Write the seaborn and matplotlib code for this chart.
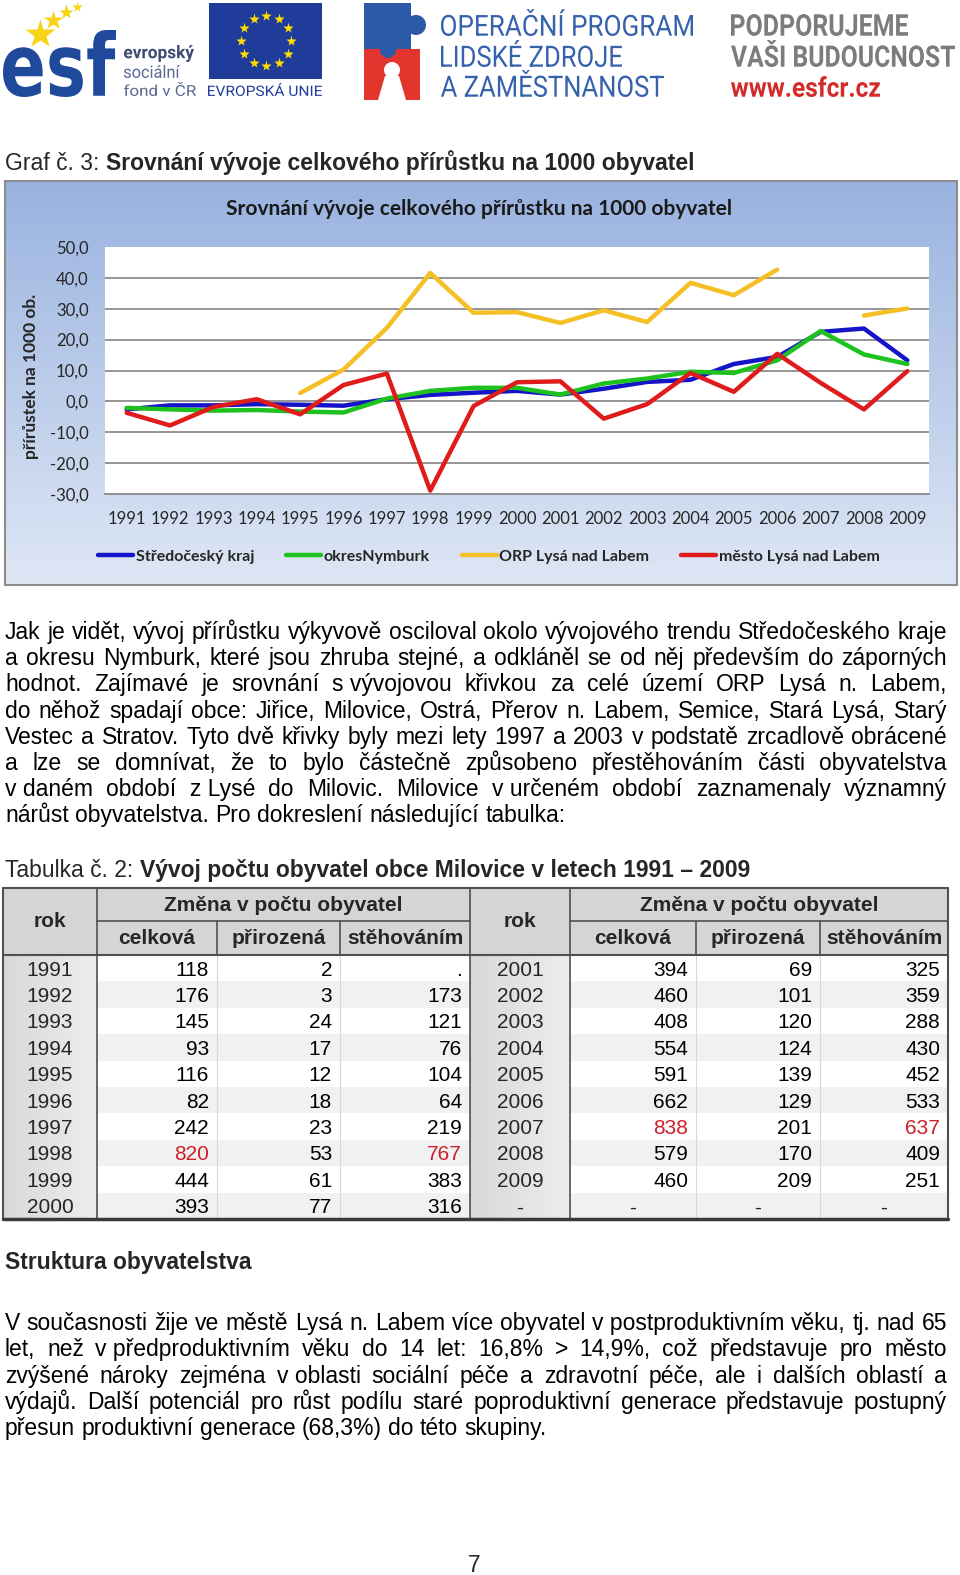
import numpy as np
import pandas as pd
import matplotlib
matplotlib.use("Agg")
import matplotlib.pyplot as plt
import seaborn as sns
from matplotlib.patches import Rectangle, Circle, Polygon, PathPatch
from matplotlib.textpath import TextPath
from matplotlib.font_manager import FontProperties
from matplotlib.transforms import Affine2D
from matplotlib.ticker import FixedLocator, FuncFormatter, NullFormatter
from matplotlib.lines import Line2D

NaN = np.nan

# ---------------- chart data ----------------
years = list(range(1991, 2010))
stredocesky_kraj = [-2.6, -1.3, -1.3, -0.9, -1.1, -1.4, 0.7, 2.1, 2.8, 3.4,
                    2.2, 4.1, 6.3, 7.0, 12.1, 14.4, 22.5, 23.6, 13.3]
okres_nymburk = [-2.1, -2.6, -3.0, -2.8, -3.3, -3.6, 0.9, 3.4, 4.4, 4.4,
                 2.2, 5.8, 7.4, 9.6, 9.2, 13.3, 22.8, 15.2, 12.1]
orp_lysa = [NaN, NaN, NaN, NaN, 2.7, 10.3, 23.8, 41.6, 28.7, 28.9,
            25.4, 29.5, 25.7, 38.4, 34.4, 42.7, NaN, 27.8, 30.1]
mesto_lysa = [-3.7, -7.8, -1.8, 0.7, -4.2, 5.3, 9.0, -28.9, -1.5, 6.2,
              6.5, -5.6, -0.9, 9.2, 3.1, 15.4, 6.0, -2.6, 9.8]
series_names = ["Středočeský kraj", "okresNymburk", "ORP Lysá nad Labem", "město Lysá nad Labem"]
series_colors = ["#1414c8", "#1ec21e", "#f5bf26", "#e01b1b"]
y_ticks = [-30, -20, -10, 0, 10, 20, 30, 40, 50]
chart_title = "Srovnání vývoje celkového přírůstku na 1000 obyvatel"
y_label = "přírůstek na 1000 ob."

# ---------------- table data ----------------
tab_years_a = ["1991", "1992", "1993", "1994", "1995", "1996", "1997", "1998", "1999", "2000"]
tab_celkova_a = ["118", "176", "145", "93", "116", "82", "242", "820", "444", "393"]
tab_prirozena_a = ["2", "3", "24", "17", "12", "18", "23", "53", "61", "77"]
tab_stehovanim_a = [".", "173", "121", "76", "104", "64", "219", "767", "383", "316"]
tab_years_b = ["2001", "2002", "2003", "2004", "2005", "2006", "2007", "2008", "2009", "-"]
tab_celkova_b = ["394", "460", "408", "554", "591", "662", "838", "579", "460", "-"]
tab_prirozena_b = ["69", "101", "120", "124", "139", "129", "201", "170", "209", "-"]
tab_stehovanim_b = ["325", "359", "288", "430", "452", "533", "637", "409", "251", "-"]
red_cells = {("a", 7, 1), ("a", 7, 3), ("b", 6, 1), ("b", 6, 3)}
tab_header = "Změna v počtu obyvatel"
tab_sub = ["celková", "přirozená", "stěhováním"]

# ---------------- page texts ----------------
para1 = [
    "Jak je vidět, vývoj přírůstku výkyvově osciloval okolo vývojového trendu Středočeského kraje",
    "a okresu Nymburk, které jsou zhruba stejné, a odkláněl se od něj především do záporných",
    "hodnot. Zajímavé je srovnání s_vývojovou křivkou za celé území ORP Lysá n. Labem,",
    "do něhož spadají obce: Jiřice, Milovice, Ostrá, Přerov n. Labem, Semice, Stará Lysá, Starý",
    "Vestec a Stratov. Tyto dvě křivky byly mezi lety 1997 a 2003 v podstatě zrcadlově obrácené",
    "a lze se domnívat, že to bylo částečně způsobeno přestěhováním části obyvatelstva",
    "v_daném období z_Lysé do Milovic. Milovice v_určeném období zaznamenaly významný",
    "nárůst obyvatelstva. Pro dokreslení následující tabulka:",
]
para2 = [
    "V současnosti žije ve městě Lysá n. Labem více obyvatel v_postproduktivním věku, tj. nad 65",
    "let, než v_předproduktivním věku do 14 let: 16,8% > 14,9%, což představuje pro město",
    "zvýšené nároky zejména v_oblasti sociální péče a zdravotní péče, ale i dalších oblastí a",
    "výdajů. Další potenciál pro růst podílu staré poproduktivní generace představuje postupný",
    "přesun produktivní generace (68,3%) do této skupiny.",
]

sns.set_style("white")
plt.rcParams["font.family"] = ["Lato", "DejaVu Sans"]
BODY = ["Liberation Sans", "DejaVu Sans"]

fig = plt.figure(figsize=(9.6, 15.75), dpi=100, facecolor="white")
bg = fig.add_axes([0, 0, 1, 1], zorder=0)
bg.axis("off")
renderer = fig.canvas.get_renderer()


def fit_text(s, x0, y0, x1, y1, color, family="Roboto", weight="normal"):
    fp = FontProperties(family=family, weight=weight)
    tp = TextPath((0, 0), s, size=100, prop=fp)
    bb = tp.get_extents()
    sx = (x1 - x0) / bb.width
    sy = (y1 - y0) / bb.height
    tr = Affine2D().translate(-bb.x0, -bb.y0).scale(sx, -sy).translate(x0, y1)
    bg.add_patch(PathPatch(tr.transform_path(tp), fc=color, ec="none", zorder=3))


# ---------------- logos ----------------
fit_text("esf", 3, 30, 116, 97, "#1f4a9c", family="DejaVu Sans", weight="bold")
for (sx, sy, ms) in [(40, 34, 22), (53, 20, 15), (66, 12, 11), (77, 7, 8)]:
    bg.plot([sx], [sy], marker="*", ms=ms, color="#f7d417", mec="none", zorder=4)
fit_text("evropský", 124, 45, 194, 62, "#3e4a72", weight="bold")
fit_text("sociální", 124, 65, 180, 78, "#5a6894")
fit_text("fond v ČR", 124, 82, 196, 96, "#5a6894")
bg.add_patch(Rectangle((209, 3), 113, 76, fc="#203c9b", ec="none", zorder=3))
for k in range(12):
    a = np.deg2rad(k * 30)
    bg.plot([266 + 25 * np.cos(a)], [41 + 25 * np.sin(a)], marker="*", ms=8,
            color="#ffdd00", mec="none", zorder=4)
fit_text("EVROPSKÁ UNIE", 208, 83, 322, 96, "#203c9b")
# puzzle pieces
bg.add_patch(Rectangle((364, 3), 47, 46, fc="#2c5aa8", ec="none", zorder=3))
bg.add_patch(Circle((416, 25), 10, fc="#2c5aa8", ec="none", zorder=3))
bg.add_patch(Rectangle((364, 49), 56, 51, fc="#e2352e", ec="none", zorder=3))
bg.add_patch(Circle((388, 50), 8, fc="#2c5aa8", ec="none", zorder=4))
bg.add_patch(Circle((392, 70), 8, fc="white", ec="none", zorder=4))
bg.add_patch(Polygon([(385, 76), (399, 76), (406, 100), (378, 100)], fc="white", ec="none", zorder=4))
fit_text("OPERAČNÍ PROGRAM", 441, 9, 693, 36, "#3561ad")
fit_text("LIDSKÉ ZDROJE", 441, 40, 622, 67, "#3561ad")
fit_text("A ZAMĚSTNANOST", 441, 70, 664, 97, "#3561ad")
fit_text("PODPORUJEME", 731, 14, 908, 36, "#7c7c7c", weight="bold")
fit_text("VAŠI BUDOUCNOST", 731, 40, 955, 67, "#7c7c7c", weight="bold")
fit_text("www.esfcr.cz", 731, 76, 880, 97, "#d42a2a", weight="bold")

# ---------------- helpers for page text ----------------
FS = 16.5
TFS = 15
X0, X1 = 5, 947


def width_of(s, **kw):
    t = bg.text(0, 0, s, **kw)
    w = t.get_window_extent(renderer).width
    t.remove()
    return w


space_w = width_of("a a", fontsize=FS, family=BODY) - width_of("aa", fontsize=FS, family=BODY)


def para_line(s, y, justify):
    words = s.split(" ")
    arts = [bg.text(0, y, w.replace("_", "\u00a0"), fontsize=FS, family=BODY,
                    va="baseline", ha="left", color="black", zorder=5) for w in words]
    ws = [a.get_window_extent(renderer).width for a in arts]
    gap = (X1 - X0 - sum(ws)) / (len(words) - 1) if (justify and len(words) > 1) else space_w
    x = X0
    for a, w in zip(arts, ws):
        a.set_x(x)
        x += w + gap


def mixed(y, normal, bold):
    t = bg.text(X0, y, normal, fontsize=FS, family=BODY, va="baseline", zorder=5)
    w = t.get_window_extent(renderer).width
    bg.text(X0 + w + space_w, y, bold, fontsize=FS, family=BODY, fontweight="bold",
            va="baseline", zorder=5)


mixed(170, "Graf č. 3:", chart_title)

# ---------------- chart box ----------------
top_c = np.array([0.600, 0.700, 0.875])
bot_c = np.array([0.870, 0.905, 0.960])
tt = np.linspace(0, 1, 256)[:, None]
grad = (top_c * (1 - tt) + bot_c * tt)[:, None, :]
bg.imshow(grad, extent=[5, 957, 585, 181], aspect="auto", origin="upper", zorder=1)
bg.add_patch(Rectangle((5, 181), 952, 404, fill=False, ec="#8c8c8c", lw=1.5, zorder=2))

ax = fig.add_axes([105 / 960, 1 - 494 / 1575, 824 / 960, 247 / 1575], zorder=2)
ax.set_facecolor("white")

frames = []
for name, vals in zip(series_names, [stredocesky_kraj, okres_nymburk, orp_lysa, mesto_lysa]):
    s = pd.Series(vals, dtype=float)
    seg = s.isna().cumsum()
    frames.append(pd.DataFrame({"rok": years, "hodnota": s, "rada": name,
                                "usek": [name + str(v) for v in seg]}))
df = pd.concat(frames, ignore_index=True).dropna()
sns.lineplot(data=df, x="rok", y="hodnota", hue="rada", hue_order=series_names,
             palette=series_colors, units="usek", estimator=None, linewidth=3.2,
             ax=ax, legend=False)

ax.set_xlim(1990.5, 2009.5)
ax.set_ylim(-30, 50)
ax.set_xlabel("")
ax.set_ylabel(y_label, fontsize=12.5, fontweight="bold")
ax.yaxis.set_label_coords(-0.080, (494 - 376) / 247)
ax.set_yticks(y_ticks)
ax.yaxis.set_major_formatter(FuncFormatter(lambda v, p: f"{v:.1f}".replace(".", ",")))
ax.xaxis.set_major_locator(FixedLocator(np.arange(1990.5, 2010, 1.0)))
ax.xaxis.set_major_formatter(NullFormatter())
ax.xaxis.set_minor_locator(FixedLocator(years))
ax.xaxis.set_minor_formatter(FuncFormatter(lambda v, p: f"{int(round(v))}"))
ax.tick_params(axis="x", which="major", direction="out", length=4.3, color="#8c8c8c", width=1)
ax.tick_params(axis="x", which="minor", length=0, pad=12, labelsize=12)
ax.tick_params(axis="y", direction="out", length=3.8, color="#8c8c8c", width=1, labelsize=12, pad=8)
ax.grid(axis="y", color="#8c8c8c", lw=1.3)
ax.grid(axis="x", visible=False)
ax.set_axisbelow(True)
for sp in ["top", "right", "left"]:
    ax.spines[sp].set_visible(False)
ax.spines["bottom"].set_color("#8c8c8c")
ax.spines["bottom"].set_linewidth(1.3)
ax.yaxis.get_major_ticks()[-1].gridline.set_visible(False)
ax.text((479 - 105) / 824, (494 - 209) / 247, chart_title, transform=ax.transAxes,
        ha="center", va="center", fontsize=15, fontweight="bold", color="#1a1a1a")

handles = [Line2D([], [], color=c, lw=3.2) for c in series_colors]
fig.legend(handles, series_names, loc="center", bbox_to_anchor=(489 / 960, 1 - 557 / 1575),
           ncol=4, frameon=False, handlelength=2.2, handletextpad=0.15, columnspacing=2.0,
           prop={"weight": "bold", "size": 11.5, "family": ["Lato", "DejaVu Sans"]})

# ---------------- paragraph 1 ----------------
for i, line in enumerate(para1):
    para_line(line, 639 + i * 26.2, justify=(i < len(para1) - 1))

mixed(877, "Tabulka č. 2:", "Vývoj počtu obyvatel obce Milovice v letech 1991 – 2009")

# ---------------- table ----------------
TOP, MID, HB = 888, 921, 955
RH = 26.4
NR = len(tab_years_a)
BOT = HB + NR * RH
DARK = "#505050"
rok_grad = np.linspace(0.85, 0.93, 64)[None, :, None] * np.ones((1, 1, 3))
tables = [("a", [3, 97, 217, 340, 470], tab_years_a, tab_celkova_a, tab_prirozena_a, tab_stehovanim_a),
          ("b", [470, 570, 696, 820, 948], tab_years_b, tab_celkova_b, tab_prirozena_b, tab_stehovanim_b)]
for key, cols, yrs, c1, c2, c3 in tables:
    bg.add_patch(Rectangle((cols[0], TOP), cols[-1] - cols[0], HB - TOP, fc="#d5d5d5", ec="none", zorder=2))
    for i in range(NR):
        y0 = HB + i * RH
        bg.add_patch(Rectangle((cols[1], y0), cols[-1] - cols[1], RH,
                               fc="white" if i % 2 == 0 else "#f1f1f1", ec="none", zorder=2))
    bg.imshow(rok_grad, extent=[cols[0], cols[1], BOT, HB], aspect="auto", origin="upper", zorder=2)
    # header texts
    bg.text((cols[0] + cols[1]) / 2, (TOP + HB) / 2, "rok", ha="center", va="center",
            fontsize=TFS, fontweight="bold", family=BODY, zorder=5)
    bg.text((cols[1] + cols[4]) / 2, (TOP + MID) / 2 + 1, tab_header, ha="center", va="center",
            fontsize=TFS, fontweight="bold", family=BODY, zorder=5)
    for j, sub in enumerate(tab_sub):
        bg.text((cols[j + 1] + cols[j + 2]) / 2, (MID + HB) / 2 + 1, sub, ha="center", va="center",
                fontsize=TFS, fontweight="bold", family=BODY, zorder=5)
    # lines
    bg.plot([cols[1], cols[4]], [MID, MID], color=DARK, lw=1.2, zorder=6)
    for xx in (cols[2], cols[3]):
        bg.plot([xx, xx], [MID, HB], color=DARK, lw=1.2, zorder=6)
        bg.plot([xx, xx], [HB, BOT], color="#d8d8d8", lw=0.8, zorder=3)
    bg.plot([cols[1], cols[1]], [TOP, BOT], color=DARK, lw=1.2, zorder=6)
    # data
    for i in range(NR):
        yc = HB + (i + 0.5) * RH + 2
        bg.text((cols[0] + cols[1]) / 2, yc, yrs[i], ha="center", va="center",
                fontsize=TFS, family=BODY, zorder=5)
        for j, col in enumerate([c1, c2, c3]):
            v = col[i]
            color = "#cc1f2a" if (key, i, j + 1) in red_cells else "black"
            if v == "-":
                bg.text((cols[j + 1] + cols[j + 2]) / 2, yc, v, ha="center", va="center",
                        fontsize=TFS, family=BODY, zorder=5)
            else:
                bg.text(cols[j + 2] - 8, yc, v, ha="right", va="center",
                        fontsize=TFS, family=BODY, color=color, zorder=5)
bg.plot([3, 948], [TOP, TOP], color=DARK, lw=1.5, zorder=6)
bg.plot([3, 948], [HB, HB], color=DARK, lw=1.5, zorder=6)
bg.plot([3, 3], [TOP, BOT], color=DARK, lw=1.5, zorder=6)
bg.plot([948, 948], [TOP, BOT], color=DARK, lw=1.5, zorder=6)
bg.plot([470, 470], [TOP, BOT], color=DARK, lw=1.2, zorder=6)
bg.plot([3, 948], [BOT, BOT], color="#3a3a3a", lw=2.5, zorder=6)

# ---------------- section 2 ----------------
bg.text(X0, 1269, "Struktura obyvatelstva", fontsize=FS, fontweight="bold", family=BODY,
        va="baseline", zorder=5)
for i, line in enumerate(para2):
    para_line(line, 1330 + i * 26.3, justify=(i < len(para2) - 1))
bg.text(474, 1572, "7", fontsize=FS, family=BODY, ha="center", va="baseline", zorder=5)

bg.set_xlim(0, 960)
bg.set_ylim(1575, 0)
fig.savefig("out.png", dpi=100, facecolor="white")
